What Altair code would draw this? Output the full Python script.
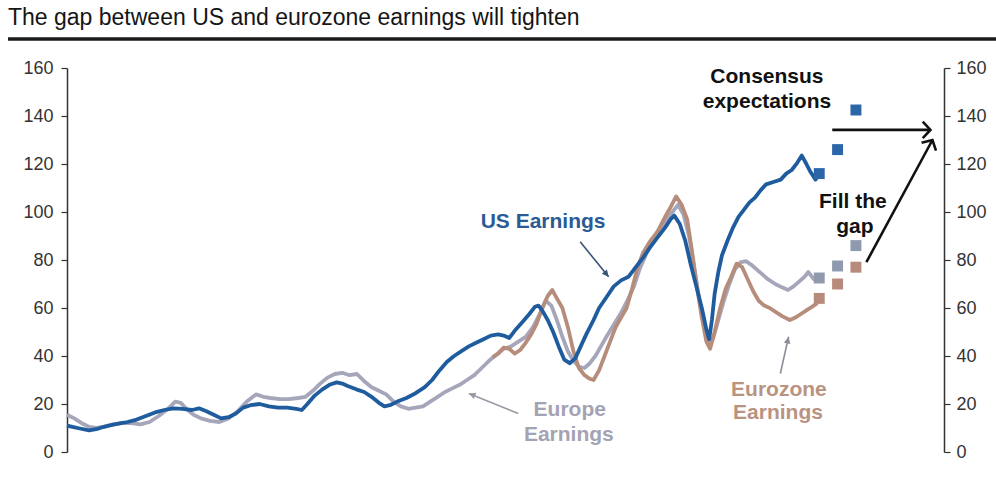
import math
import altair as alt
import pandas as pd

# ---------------- data ----------------
us_year = [1975.0, 1975.3, 1975.7, 1976.2, 1976.6, 1977.0, 1977.4, 1977.8, 1978.3, 1978.8,
           1979.3, 1979.8, 1980.3, 1980.8, 1981.3, 1981.8, 1982.2, 1982.6, 1983.0, 1983.4,
           1983.8, 1984.2, 1984.6, 1985.0, 1985.5, 1986.0, 1986.5, 1987.0, 1987.5, 1987.8,
           1988.1, 1988.5, 1988.9, 1989.3, 1989.7, 1990.0, 1990.3, 1990.8, 1991.2, 1991.6,
           1992.0, 1992.3, 1992.6, 1993.0, 1993.5, 1994.0, 1994.5, 1994.9, 1995.3, 1995.7,
           1996.1, 1996.5, 1996.9, 1997.3, 1997.7, 1998.1, 1998.5, 1998.8, 1999.1, 1999.4,
           1999.8, 2000.2, 2000.5, 2000.7, 2000.9, 2001.2, 2001.5, 2001.8, 2002.1, 2002.4,
           2002.7, 2003.0, 2003.3, 2003.7, 2004.0, 2004.4, 2004.8, 2005.2, 2005.6, 2006.0,
           2006.4, 2006.8, 2007.2, 2007.6, 2007.9, 2008.1, 2008.4, 2008.7, 2009.0, 2009.3,
           2009.6, 2009.85, 2010.0, 2010.15, 2010.3, 2010.5, 2010.7, 2011.0, 2011.3, 2011.6,
           2011.9, 2012.2, 2012.5, 2012.8, 2013.1, 2013.5, 2013.9, 2014.2, 2014.5, 2014.8,
           2015.05, 2015.3, 2015.5, 2015.8, 2016.0]
us_val = [11, 10.5, 9.8, 9.0, 9.5, 10.5, 11.2, 11.8, 12.5, 13.5,
          15, 16.5, 17.5, 18.2, 18, 17.5, 18.2, 17, 15.5, 14,
          14.5, 16, 18.5, 19.5, 20, 19, 18.5, 18.5, 18, 17.5,
          20, 23.5, 26, 28, 29, 28.5, 27.5, 26, 25, 23,
          20.5, 19, 19.5, 21, 22.5, 24.5, 27, 30, 34, 37.5,
          40, 42, 44, 45.5, 47, 48.5, 49, 48.5, 47.5, 50.5,
          54, 57.5, 60.5, 61, 59, 55, 50, 44, 38.5, 37,
          39, 44, 49, 55, 60, 64.5, 69, 71.5, 73, 77,
          81, 85.5, 89.5, 93.5, 97, 98.5, 95, 88, 78, 69,
          60, 51, 47, 55, 66, 75, 82, 88, 93.5, 98,
          101, 104, 106, 109, 111.5, 112.5, 113.5, 116, 117.5, 120.5,
          123.5, 120, 117, 113.5, 116]

eu_year = [1975.0, 1975.4, 1975.8, 1976.2, 1976.6, 1977.0, 1977.5, 1978.0, 1978.5, 1979.0,
           1979.5, 1980.0, 1980.5, 1980.9, 1981.2, 1981.5, 1981.9, 1982.3, 1982.8, 1983.3,
           1983.8, 1984.3, 1984.8, 1985.3, 1985.7, 1986.1, 1986.6, 1987.1, 1987.6, 1988.0,
           1988.4, 1988.8, 1989.2, 1989.6, 1990.0, 1990.4, 1990.8, 1991.2, 1991.6, 1992.0,
           1992.4, 1992.8, 1993.2, 1993.6, 1994.0, 1994.4, 1994.8, 1995.2, 1995.6, 1996.0,
           1996.4, 1996.8, 1997.2, 1997.6, 1998.0, 1998.4, 1998.8, 1999.2, 1999.6, 2000.0,
           2000.4, 2000.8, 2001.1, 2001.4, 2001.7, 2002.0, 2002.3, 2002.6, 2002.9, 2003.2,
           2003.5, 2003.8, 2004.1, 2004.4, 2004.8, 2005.2, 2005.6, 2005.9, 2006.2, 2006.6,
           2007.0, 2007.4, 2007.8, 2008.1, 2008.3, 2008.6, 2008.9, 2009.2, 2009.5, 2009.8,
           2010.0, 2010.2, 2010.5, 2010.8, 2011.1, 2011.4, 2011.7, 2012.0, 2012.3, 2012.6,
           2012.9, 2013.2, 2013.6, 2014.0, 2014.3, 2014.6, 2014.9, 2015.2, 2015.4, 2015.7,
           2016.0]
eu_val = [15.5, 14, 12, 10.5, 10, 10.5, 11.5, 12, 12, 11.5,
          12.5, 15, 18, 21, 20.5, 18, 15.5, 14, 13, 12.5,
          14, 17, 21, 24, 23, 22.5, 22, 22, 22.5, 23,
          25.5, 28.5, 31, 32.5, 33, 32, 32.5, 29.5, 27, 25.5,
          24, 21, 19, 18, 18.5, 19, 21, 23, 25, 26.5,
          28, 30, 32, 35, 38, 40.5, 43, 44, 46, 48,
          52, 58, 63, 61, 55, 48, 42, 38, 35.5, 35,
          37, 40, 44, 48, 53, 58, 64, 69, 76, 83,
          88.5, 93, 98, 101, 103, 99, 90, 76, 62, 50,
          45, 47, 55, 63, 70, 76, 79, 79.5, 78, 76,
          74, 72, 70, 68.5, 67.5, 69, 71, 73, 75, 72,
          72.5]

ez_year = [1998.2, 1998.5, 1998.8, 1999.1, 1999.4, 1999.7, 2000.0, 2000.3, 2000.6, 2000.9,
           2001.2, 2001.45, 2001.7, 2002.0, 2002.3, 2002.6, 2002.9, 2003.2, 2003.5, 2003.7,
           2004.0, 2004.3, 2004.6, 2004.9, 2005.2, 2005.5, 2005.8, 2006.1, 2006.4, 2006.8,
           2007.2, 2007.6, 2007.9, 2008.2, 2008.5, 2008.8, 2009.1, 2009.35, 2009.6, 2009.85,
           2010.05, 2010.3, 2010.6, 2010.9, 2011.2, 2011.5, 2011.8, 2012.1, 2012.4, 2012.7,
           2013.0, 2013.3, 2013.7, 2014.0, 2014.4, 2014.7, 2015.0, 2015.3, 2015.6, 2015.9]
ez_val = [39.5, 41, 43.5, 43, 41, 42.5, 45.5, 49, 53.5, 60,
          65, 67.5, 64, 60, 52, 42, 35, 32, 30.5, 30,
          34, 40, 46, 52, 56, 60, 68, 77, 83, 88,
          92, 98, 102, 106.5, 103, 97, 82, 68, 56, 46,
          43, 50, 60, 68, 73, 78.5, 77, 72, 67, 63,
          61, 60, 58, 56.5, 55, 56, 57.5, 59, 60.5, 62]

fc_year = [2016, 2017, 2018]
fc_us = [116, 126, 142.5]
fc_eu = [72.5, 77.5, 86]
fc_ez = [64, 70, 77]

x_ticks = [1975, 1980, 1985, 1990, 1995, 2000, 2005, 2010, 2015, 2020]
y_ticks = [0, 20, 40, 60, 80, 100, 120, 140, 160]

title_text = "The gap between US and eurozone earnings will tighten"

# annotation labels (text, x, y)
lbl_text = ["US Earnings", "Europe", "Earnings", "Eurozone", "Earnings",
            "Consensus", "expectations", "Fill the", "gap"]
lbl_x = [2000.95, 2002.4, 2002.35, 2013.8, 2013.75, 2013.15, 2013.15, 2017.83, 2017.94]
lbl_y = [95.9, 17.4, 7.0, 25.8, 16.2, 156.4, 146.0, 104.2, 93.8]
lbl_grp = ["us", "eu", "eu", "ez", "ez", "k", "k", "k", "k"]

# arrows (start -> tip)
arr_x0 = [2002.97, 1999.6, 2013.88, 2016.71, 2018.57]
arr_y0 = [87.6, 16.0, 32.7, 134.2, 79.1]
arr_x1 = [2004.52, 1996.9, 2014.33, 2022.06, 2022.17]
arr_y1 = [73.0, 24.4, 48.0, 134.2, 130.0]
arr_grp = ["us", "eu", "ez", "k", "k"]

# ---------------- layout / styles ----------------
X_DOMAIN = [1975, 2022.8]
Y_DOMAIN = [0, 160]
W, H = 877, 384
PX_X = W / (X_DOMAIN[1] - X_DOMAIN[0])
PX_Y = H / (Y_DOMAIN[1] - Y_DOMAIN[0])

C_US = "#1f5c9e"
C_EU = "#a6a6bb"
C_EZ = "#b68c7b"
FONT = "Liberation Sans"

xs = alt.Scale(domain=X_DOMAIN, nice=False, zero=False)
ys = alt.Scale(domain=Y_DOMAIN, nice=False, zero=False)

axis_common = dict(grid=False, domainColor="#333333", tickColor="#333333", domainWidth=1.5,
                   tickWidth=1.2, tickSize=6, labelFont=FONT, labelFontSize=18,
                   labelColor="#333333", title=None)

x_axis = alt.Axis(values=x_ticks, labelExpr="substring(toString(datum.value), 2)",
                  labelPadding=4, **axis_common)
y_left = alt.Axis(values=y_ticks, orient="left", labelPadding=8, **axis_common)
y_right = alt.Axis(values=y_ticks, orient="right", labelPadding=6, **axis_common)

def series_df(xv, yv):
    return pd.DataFrame({"x": xv, "y": yv})

def line_layer(xv, yv, color, axes=False):
    return alt.Chart(series_df(xv, yv)).mark_line(color=color, strokeWidth=3.8,
                                                  strokeJoin="round").encode(
        x=alt.X("x:Q", scale=xs, axis=x_axis if axes else None),
        y=alt.Y("y:Q", scale=ys, axis=y_left if axes else None),
    )

eu_line = line_layer(eu_year, eu_val, C_EU)
ez_line = line_layer(ez_year, ez_val, C_EZ)
us_line = line_layer(us_year, us_val, C_US, axes=True)

fc_df = pd.DataFrame({
    "x": fc_year * 3,
    "y": fc_us + fc_eu + fc_ez,
    "s": ["us"] * 3 + ["eu"] * 3 + ["ez"] * 3,
})
squares = alt.Chart(fc_df).mark_square(size=120, opacity=1).encode(
    x=alt.X("x:Q", scale=xs, axis=None),
    y=alt.Y("y:Q", scale=ys, axis=y_right),
    color=alt.Color("s:N", scale=alt.Scale(domain=["us", "eu", "ez"],
                                           range=["#2a66a8", "#8f9aae", "#b68b7b"]), legend=None),
)

grp_dom = ["us", "eu", "ez", "k"]
arrow_col = alt.Scale(domain=grp_dom, range=["#3a5479", "#9a9aa6", "#8e8e9a", "#111111"])

arr_df = pd.DataFrame({"x0": arr_x0, "y0": arr_y0, "x1": arr_x1, "y1": arr_y1, "g": arr_grp})
arr_df["ang"] = [
    (math.degrees(math.atan2((b - a) * PX_X, (d - c) * PX_Y)) + 360) % 360
    for a, b, c, d in zip(arr_x0, arr_x1, arr_y0, arr_y1)
]
arr_df["w"] = [1.6 if g != "k" else 2.6 for g in arr_grp]

shafts = alt.Chart(arr_df).mark_rule().encode(
    x=alt.X("x0:Q", scale=xs, axis=None), y=alt.Y("y0:Q", scale=ys, axis=None),
    x2="x1:Q", y2="y1:Q",
    color=alt.Color("g:N", scale=arrow_col, legend=None),
    strokeWidth=alt.StrokeWidth("w:Q", scale=None),
)

heads_filled = alt.Chart(arr_df).transform_filter("datum.g != 'k'").mark_point(
    shape="M0,0L-0.55,1.1L0.55,1.1Z", filled=True, size=150, opacity=1).encode(
    x=alt.X("x1:Q", scale=xs, axis=None), y=alt.Y("y1:Q", scale=ys, axis=None),
    color=alt.Color("g:N", scale=arrow_col, legend=None),
    angle=alt.Angle("ang:Q", scale=None),
)
heads_open = alt.Chart(arr_df).transform_filter("datum.g == 'k'").mark_point(
    shape="M-0.8,0.75L0,0L0.8,0.75", filled=False, size=420, opacity=1,
    strokeWidth=2.6, strokeJoin="miter", strokeCap="butt").encode(
    x=alt.X("x1:Q", scale=xs, axis=None), y=alt.Y("y1:Q", scale=ys, axis=None),
    color=alt.Color("g:N", scale=arrow_col, legend=None),
    angle=alt.Angle("ang:Q", scale=None),
)

lbl_df = pd.DataFrame({"t": lbl_text, "x": lbl_x, "y": lbl_y, "g": lbl_grp})
labels = alt.Chart(lbl_df).mark_text(font=FONT, fontSize=21, fontWeight="bold",
                                     align="center", baseline="middle").encode(
    x=alt.X("x:Q", scale=xs, axis=None), y=alt.Y("y:Q", scale=ys, axis=None),
    text="t:N",
    color=alt.Color("g:N", scale=alt.Scale(domain=grp_dom,
                                           range=["#2b5b95", "#a3a3b3", "#b9937f", "#111111"]),
                    legend=None),
)

title_mark = alt.Chart(pd.DataFrame({"t": [title_text]})).mark_text(
    font=FONT, fontSize=23, align="left", baseline="middle", color="#151515").encode(
    x=alt.value(-59), y=alt.value(-50), text="t:N")
title_rule = alt.Chart(pd.DataFrame({"a": [0]})).mark_rule(color="#1a1a1a", strokeWidth=3.5).encode(
    x=alt.value(-59), x2=alt.value(W + 52), y=alt.value(-29))

chart = alt.layer(
    eu_line, ez_line, us_line, squares, shafts, heads_filled, heads_open, labels,
    title_mark, title_rule,
).resolve_axis(y="independent").resolve_scale(color="independent").properties(
    width=W, height=H,
    autosize=alt.AutoSizeParams(type="none"),
    padding={"left": 67, "top": 68, "right": 52, "bottom": 34},
    background="white",
).configure_view(stroke=None)

chart.save("out.html", embed_options={"renderer": "svg", "actions": False})
